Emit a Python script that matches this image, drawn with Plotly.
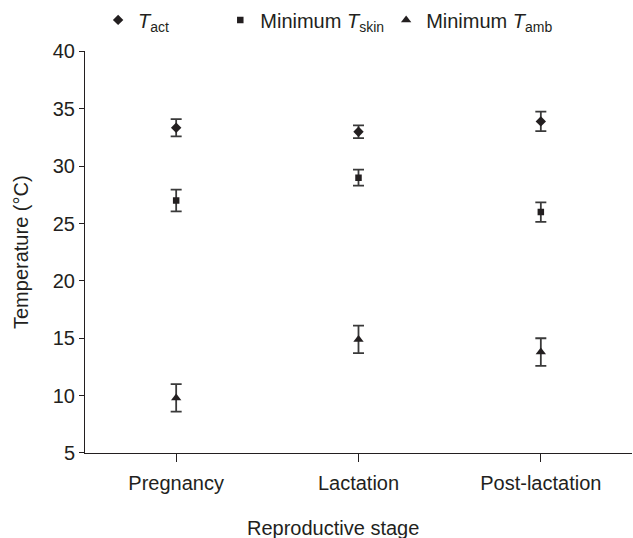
import plotly.graph_objects as go

# ---- data ----
stages = ["Pregnancy", "Lactation", "Post-lactation"]

t_act = [33.35, 33.0, 33.9]
t_act_err = [0.75, 0.55, 0.85]

t_skin = [27.0, 29.0, 26.0]
t_skin_err = [0.95, 0.7, 0.85]

t_amb = [9.8, 14.9, 13.8]
t_amb_err = [1.2, 1.2, 1.2]

y_ticks = [5, 10, 15, 20, 25, 30, 35, 40]

INK = "#231f20"
FONT = "Liberation Sans, Arial, Helvetica, sans-serif"
FS = 20

fig = go.Figure()

def add_series(name, vals, errs, symbol, size, legend):
    fig.add_trace(go.Scatter(
        x=stages, y=vals, mode="markers", name=name, legend=legend,
        marker=dict(symbol=symbol, size=size, color=INK),
        error_y=dict(type="data", array=errs, visible=True,
                     color="#3a3a3a", thickness=1.8, width=5.5),
    ))

add_series("<i>T</i><sub>act</sub>", t_act, t_act_err, "diamond", 8, "legend")
add_series("Minimum <i>T</i><sub>skin</sub>", t_skin, t_skin_err, "square", 6.5, "legend2")
add_series("Minimum <i>T</i><sub>amb</sub>", t_amb, t_amb_err, "triangle-up", 9, "legend3")

leg_common = dict(orientation="h", yref="container", xref="container",
                  yanchor="middle", y=0.963, xanchor="left",
                  bgcolor="rgba(0,0,0,0)", font=dict(family=FONT, size=FS, color=INK),
                  itemwidth=30)

fig.update_layout(
    width=633, height=538,
    showlegend=True,
    margin=dict(l=85, r=1, t=49, b=85),
    paper_bgcolor="white", plot_bgcolor="white",
    font=dict(family=FONT, size=FS, color=INK),
    legend=dict(x=0.155, **leg_common),
    legend2=dict(x=0.348, **leg_common),
    legend3=dict(x=0.610, **leg_common),
    xaxis=dict(
        type="category", categoryorder="array", categoryarray=stages,
        range=[-0.5, 2.5], showline=True, linecolor=INK, linewidth=1,
        ticks="outside", ticklen=8, tickwidth=1, tickcolor=INK,
        showgrid=False, zeroline=False, ticklabelstandoff=4,
        tickfont=dict(family=FONT, size=FS, color=INK),
    ),
    yaxis=dict(
        range=[5, 40], tickvals=y_ticks, showline=True, linecolor=INK, linewidth=1,
        ticks="outside", ticklen=5, tickwidth=1, tickcolor=INK,
        showgrid=False, zeroline=False,
        tickfont=dict(family=FONT, size=FS, color=INK),
        title=dict(text="Temperature (°C)", font=dict(family=FONT, size=FS, color=INK), standoff=18),
    ),
    annotations=[dict(
        text="Reproductive stage", xref="paper", yref="paper",
        x=0.453, y=-0.186, xanchor="center", yanchor="middle", showarrow=False,
        font=dict(family=FONT, size=FS, color=INK),
    )],
)

# remove the browser's default page margin so the figure fills the window exactly
fig.write_html("out.html", config={"displayModeBar": False},
               post_script="document.body.style.margin='0';")
